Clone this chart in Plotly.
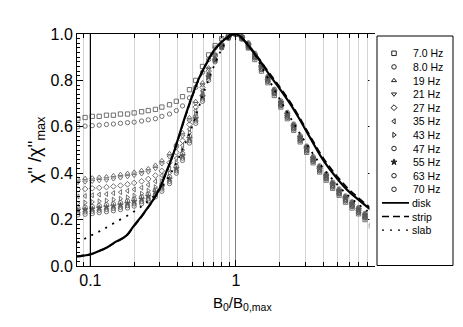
import plotly.graph_objects as go

# ---------------- data ----------------
x_grid = [0.082, 0.092, 0.103, 0.115, 0.129, 0.144, 0.161, 0.18, 0.2, 0.225, 0.25, 0.28,
          0.31, 0.35, 0.39, 0.43, 0.48, 0.53, 0.59, 0.65, 0.72, 0.8, 0.89, 1.0, 1.1, 1.22,
          1.35, 1.5, 1.66, 1.84, 2.04, 2.26, 2.5, 2.77, 3.07, 3.4, 3.77, 4.18, 4.63, 5.13,
          5.68, 6.3, 6.98, 7.73, 8.56]

y_7hz = [0.635, 0.64, 0.645, 0.645, 0.65, 0.65, 0.655, 0.655, 0.66, 0.665, 0.67, 0.675,
         0.685, 0.695, 0.71, 0.73, 0.76, 0.80, 0.86, 0.91, 0.95, 0.98, 0.995, 1.0, 0.98, 0.94,
         0.89, 0.84, 0.79, 0.735, 0.685, 0.635, 0.585, 0.535, 0.49, 0.445, 0.405, 0.37,
         0.335, 0.305, 0.275, 0.25, 0.225, 0.2, 0.172]
y_8hz = [0.60, 0.603, 0.605, 0.607, 0.61, 0.612, 0.615, 0.618, 0.62, 0.625, 0.63, 0.635,
         0.645, 0.655, 0.67, 0.69, 0.725, 0.77, 0.835, 0.89, 0.94, 0.975, 0.993, 1.0, 0.982,
         0.944, 0.897, 0.846, 0.795, 0.742, 0.69, 0.64, 0.59, 0.54, 0.495, 0.45, 0.41, 0.375,
         0.34, 0.31, 0.28, 0.256, 0.23, 0.207, 0.18]
y_19hz = [0.375, 0.378, 0.38, 0.383, 0.385, 0.39, 0.395, 0.40, 0.405, 0.412, 0.42, 0.435,
          0.455, 0.485, 0.525, 0.575, 0.64, 0.71, 0.79, 0.855, 0.915, 0.96, 0.99, 1.0, 0.99,
          0.96, 0.915, 0.865, 0.815, 0.76, 0.71, 0.66, 0.61, 0.56, 0.515, 0.47, 0.43, 0.395,
          0.36, 0.33, 0.3, 0.275, 0.25, 0.225]
y_21hz = [0.36, 0.362, 0.365, 0.368, 0.37, 0.375, 0.38, 0.385, 0.39, 0.397, 0.405, 0.42,
          0.44, 0.47, 0.51, 0.56, 0.625, 0.70, 0.78, 0.85, 0.91, 0.955, 0.988, 1.0, 0.988,
          0.955, 0.91, 0.86, 0.81, 0.755, 0.705, 0.655, 0.605, 0.555, 0.51, 0.465, 0.425,
          0.39, 0.355, 0.325, 0.295, 0.27, 0.245, 0.22]
y_27hz = [0.33, 0.332, 0.335, 0.337, 0.34, 0.343, 0.347, 0.352, 0.358, 0.365, 0.375, 0.39,
          0.41, 0.445, 0.49, 0.54, 0.61, 0.685, 0.77, 0.84, 0.905, 0.952, 0.987, 1.0, 0.985,
          0.95, 0.905, 0.855, 0.805, 0.75, 0.70, 0.65, 0.60, 0.55, 0.505, 0.46, 0.42, 0.385,
          0.35, 0.32, 0.29, 0.265, 0.24, 0.215]
y_35hz = [0.30, 0.302, 0.305, 0.308, 0.31, 0.314, 0.318, 0.324, 0.33, 0.338, 0.35, 0.365,
          0.39, 0.42, 0.465, 0.52, 0.59, 0.67, 0.755, 0.83, 0.90, 0.95, 0.986, 1.0, 0.983,
          0.946, 0.9, 0.85, 0.8, 0.745, 0.695, 0.645, 0.595, 0.545, 0.5, 0.455, 0.415, 0.38,
          0.345, 0.315, 0.285, 0.26, 0.235, 0.21]
y_43hz = [0.27, 0.273, 0.276, 0.279, 0.282, 0.286, 0.29, 0.296, 0.303, 0.312, 0.325, 0.34,
          0.365, 0.40, 0.445, 0.50, 0.575, 0.655, 0.745, 0.825, 0.895, 0.947, 0.985, 1.0,
          0.988, 0.956, 0.912, 0.862, 0.812, 0.758, 0.708, 0.658, 0.608, 0.558, 0.512, 0.467,
          0.427, 0.392, 0.357, 0.327, 0.297, 0.272, 0.247, 0.222]
y_47hz = [0.25, 0.253, 0.256, 0.26, 0.264, 0.268, 0.273, 0.28, 0.288, 0.298, 0.31, 0.328,
          0.352, 0.385, 0.43, 0.485, 0.56, 0.645, 0.735, 0.82, 0.89, 0.945, 0.984, 0.998,
          0.978, 0.942, 0.897, 0.847, 0.797, 0.742, 0.692, 0.642, 0.592, 0.542, 0.497, 0.452,
          0.412, 0.377, 0.342, 0.312, 0.282, 0.257, 0.232, 0.207]
y_55hz = [0.24, 0.243, 0.246, 0.25, 0.254, 0.258, 0.263, 0.27, 0.278, 0.288, 0.30, 0.318,
          0.342, 0.375, 0.42, 0.475, 0.55, 0.635, 0.73, 0.815, 0.888, 0.944, 0.984, 1.0,
          0.987, 0.953, 0.908, 0.858, 0.808, 0.753, 0.703, 0.653, 0.603, 0.553, 0.508, 0.463,
          0.423, 0.388, 0.353, 0.323, 0.293, 0.268, 0.243, 0.218]
y_63hz = [0.23, 0.233, 0.236, 0.24, 0.244, 0.248, 0.253, 0.26, 0.268, 0.278, 0.29, 0.308,
          0.332, 0.365, 0.41, 0.465, 0.54, 0.625, 0.72, 0.81, 0.885, 0.942, 0.983, 0.999,
          0.982, 0.947, 0.902, 0.852, 0.802, 0.747, 0.697, 0.647, 0.597, 0.547, 0.502, 0.457,
          0.417, 0.382, 0.347, 0.317, 0.287, 0.262, 0.237, 0.212]
y_70hz = [0.22, 0.223, 0.226, 0.23, 0.234, 0.238, 0.243, 0.25, 0.258, 0.268, 0.28, 0.298,
          0.322, 0.355, 0.40, 0.455, 0.53, 0.615, 0.71, 0.80, 0.88, 0.94, 0.982, 1.0, 0.99,
          0.962, 0.917, 0.867, 0.817, 0.762, 0.712, 0.662, 0.612, 0.562, 0.517, 0.472, 0.432,
          0.397, 0.362, 0.332, 0.302, 0.277, 0.252, 0.227]

series_names = ["7.0 Hz", "8.0 Hz", "19 Hz", "21 Hz", "27 Hz", "35 Hz", "43 Hz",
                "47 Hz", "55 Hz", "63 Hz", "70 Hz"]
series_values = [y_7hz, y_8hz, y_19hz, y_21hz, y_27hz, y_35hz, y_43hz,
                 y_47hz, y_55hz, y_63hz, y_70hz]
series_symbols = ["square-open", "circle-open", "triangle-up-open", "triangle-down-open",
                  "diamond-open", "triangle-left-open", "triangle-right-open",
                  "circle-open", "star", "circle-open", "circle-open"]

disk_x = [0.081, 0.09, 0.1, 0.115, 0.13, 0.15, 0.176, 0.2, 0.225, 0.25, 0.27, 0.3, 0.33,
          0.37, 0.43, 0.48, 0.55, 0.63, 0.7, 0.78, 0.9, 1.0, 1.07, 1.2, 1.46, 1.7, 2.0,
          2.36, 2.7, 3.0, 3.33, 4.0, 5.0, 6.0, 7.0, 8.0, 8.9]
disk_y = [0.04, 0.045, 0.05, 0.065, 0.08, 0.105, 0.13, 0.175, 0.215, 0.255, 0.285, 0.335,
          0.40, 0.48, 0.61, 0.70, 0.80, 0.875, 0.925, 0.96, 0.99, 1.0, 0.99, 0.955, 0.885,
          0.825, 0.765, 0.70, 0.64, 0.59, 0.54, 0.455, 0.375, 0.32, 0.285, 0.255, 0.232]
strip_y = [0.042, 0.046, 0.05, 0.064, 0.079, 0.103, 0.128, 0.172, 0.212, 0.252, 0.283,
           0.333, 0.397, 0.477, 0.605, 0.695, 0.795, 0.872, 0.922, 0.958, 0.99, 1.0, 0.991,
           0.958, 0.89, 0.832, 0.773, 0.708, 0.648, 0.598, 0.548, 0.465, 0.385, 0.33,
           0.293, 0.262, 0.24]
slab_x = [0.081, 0.1, 0.12, 0.15, 0.2, 0.25, 0.3, 0.35, 0.4, 0.45, 0.5, 0.55, 0.6, 0.7,
          0.8, 0.9, 1.0, 1.1, 1.25, 1.5, 2.0, 2.5, 3.0, 4.0, 5.0, 6.0, 7.0, 8.0, 8.9]
slab_y = [0.10, 0.13, 0.155, 0.19, 0.235, 0.28, 0.33, 0.39, 0.46, 0.53, 0.60, 0.675, 0.745,
          0.855, 0.935, 0.985, 1.0, 0.985, 0.945, 0.86, 0.72, 0.615, 0.535, 0.42, 0.35,
          0.30, 0.265, 0.237, 0.215]

model_names = ["disk", "strip", "slab"]

# ---------------- figure ----------------
FONT = "Liberation Sans, Arial, Helvetica, sans-serif"
MARK = "#595959"
W, H = 463, 327
ML, MR, MT, MB = 77, 8, 34, 61
PW = W - ML - MR            # paper width in px
PLOT_R = 374                # right edge of the main plot (px)
LEG_L, LEG_R = 377, 453     # legend frame (px)

fig = go.Figure()
for name, vals, sym in zip(series_names, series_values, series_symbols):
    fig.add_trace(go.Scatter(
        x=x_grid[:len(vals)], y=vals, mode="markers", name=name, showlegend=False,
        marker=dict(symbol=sym, size=4.3, color=MARK, line=dict(color=MARK, width=0.85)),
    ))

line_styles = [dict(color="black", width=2.2, shape="spline"),
               dict(color="black", width=1.6, dash="7px,4px", shape="spline"),
               dict(color="black", width=1.8, dash="2px,6px", shape="spline")]
fig.add_trace(go.Scatter(x=disk_x, y=disk_y, mode="lines", name="disk",
                         showlegend=False, line=line_styles[0]))
fig.add_trace(go.Scatter(x=disk_x, y=strip_y, mode="lines", name="strip",
                         showlegend=False, line=line_styles[1]))
fig.add_trace(go.Scatter(x=slab_x, y=slab_y, mode="lines", name="slab",
                         showlegend=False, line=line_styles[2]))

# ---- hand-made legend on its own pixel-scaled axes ----
row0, step = 53.3, 13.6
key_x, text_x = 394, 411
for i, (name, sym) in enumerate(zip(series_names, series_symbols)):
    yy = row0 + i * step
    fig.add_trace(go.Scatter(
        x=[key_x], y=[yy], xaxis="x2", yaxis="y2", mode="markers", showlegend=False,
        hoverinfo="skip",
        marker=dict(symbol=sym, size=4.5, color="#222", line=dict(color="#222", width=1)),
    ))
    fig.add_annotation(x=text_x, y=yy, xref="x2", yref="y2", text=name, showarrow=False,
                       xanchor="left", yanchor="middle",
                       font=dict(family=FONT, size=10.5, color="black"))
for j, (name, st) in enumerate(zip(model_names, line_styles)):
    yy = row0 + (len(series_names) + j) * step
    st2 = dict(st)
    st2.pop("shape", None)
    st2["width"] = 1.6 if j == 0 else 1.3
    fig.add_trace(go.Scatter(x=[382, 409], y=[yy, yy], xaxis="x2", yaxis="y2",
                             mode="lines", showlegend=False, hoverinfo="skip", line=st2))
    fig.add_annotation(x=text_x - 1, y=yy, xref="x2", yref="y2", text=name,
                       showarrow=False, xanchor="left", yanchor="middle",
                       font=dict(family=FONT, size=10.5, color="black"))
fig.add_shape(type="rect", xref="x2", yref="y2", x0=LEG_L, x1=LEG_R, y0=36, y1=265.5,
              line=dict(color="black", width=1), fillcolor="rgba(0,0,0,0)")

# dark vertical line at 0.1
fig.add_shape(type="line", xref="x", yref="y", x0=0.1, x1=0.1, y0=0, y1=1,
              line=dict(color="black", width=1.2))

# x axis title as annotation (placed like the reference)
fig.add_annotation(x=(242 - ML) / PW, y=-(303 - (H - MB)) / (H - MT - MB), xref="paper",
                   yref="paper", text="B<sub>0</sub>/B<sub>0,max</sub>", showarrow=False,
                   xanchor="center", yanchor="middle",
                   font=dict(family=FONT, size=15, color="black"))

fig.update_layout(
    width=W, height=H,
    margin=dict(l=ML, r=MR, t=MT, b=MB, autoexpand=False),
    paper_bgcolor="white", plot_bgcolor="white",
    font=dict(family=FONT, color="black", size=14),
    showlegend=False,
    xaxis=dict(
        type="log", range=[-1.092, 0.95], dtick=1, domain=[0, (PLOT_R - ML) / PW],
        showline=True, linecolor="black", linewidth=1, mirror="allticks",
        ticks="inside", ticklen=6, tickcolor="black",
        showgrid=True, gridcolor="#808080", gridwidth=1.3,
        tickfont=dict(size=16), zeroline=False, automargin=False,
        minor=dict(dtick="D1", showgrid=True, gridcolor="#d4d4d4", gridwidth=1,
                   ticks="inside", ticklen=4, tickcolor="black"),
    ),
    yaxis=dict(
        range=[0, 1.0], dtick=0.2, tickformat=".1f",
        showline=True, linecolor="black", linewidth=1, mirror="allticks",
        ticks="inside", ticklen=6, tickcolor="black", showgrid=False, zeroline=False,
        tickfont=dict(size=16), automargin=False,
        minor=dict(dtick=0.02, ticks="inside", ticklen=3, tickcolor="black"),
        title=dict(text="χ'' /χ''<sub>max</sub>", font=dict(size=18), standoff=4),
    ),
    xaxis2=dict(domain=[(LEG_L - ML) / PW - 0.02, 1.0], range=[LEG_L - 0.02 * PW, W - MR],
                visible=False, fixedrange=True, anchor="y2"),
    yaxis2=dict(domain=[0, 1], range=[H - MB, MT], visible=False, fixedrange=True,
                anchor="x2"),
)

fig.write_html("out.html",
               config={"displayModeBar": False, "staticPlot": True},
               post_script="document.body.style.margin='0';"
                           "document.body.style.overflow='hidden';")
